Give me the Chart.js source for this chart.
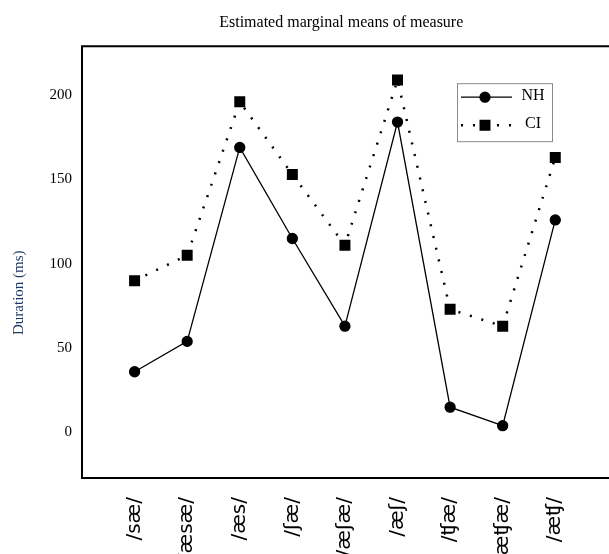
<!DOCTYPE html>
<html>
<head>
<meta charset="utf-8">
<script src="https://cdn.jsdelivr.net/npm/chart.js@4.4.1/dist/chart.umd.min.js"></script>
<style>
  html, body { margin: 0; padding: 0; background: #fff; overflow: hidden; }
  #wrap { width: 609px; height: 554px; }
</style>
</head>
<body>
<div id="wrap"><canvas id="chart"></canvas></div>
<script>
// values (ms)
const categories = ['/sæ/', '/æsæ/', '/æs/', '/ʃæ/', '/æʃæ/', '/æʃ/', '/ʧæ/', '/æʧæ/', '/æʧ/'];
const nhValues = [36, 54, 169, 115, 63, 184, 15, 4, 126];
const ciValues = [90, 105, 196, 153, 111, 209, 73, 63, 163];
const yTicks = [0, 50, 100, 150, 200];
const seriesNames = ['NH', 'CI'];
const chartTitle = 'Estimated marginal means of measure';
const yTitle = 'Duration (ms)';

const serif = 'Liberation Serif';
const ciDash = [2, 10];

// box round the plot, open on the right side
const framePlugin = {
    id: 'frame',
    afterDraw(chart) {
        const { ctx, chartArea: a, width } = chart;
        ctx.save();
        ctx.strokeStyle = '#000';
        ctx.lineWidth = 2;
        ctx.beginPath();
        ctx.moveTo(width, a.top);
        ctx.lineTo(a.left, a.top);
        ctx.lineTo(a.left, a.bottom);
        ctx.lineTo(width, a.bottom);
        ctx.stroke();
        ctx.restore();
    }
};

const yTitlePlugin = {
    id: 'yTitle',
    afterDraw(chart) {
        const { ctx, chartArea: a } = chart;
        ctx.save();
        ctx.translate(19, a.bottom - 143);
        ctx.rotate(-Math.PI / 2);
        ctx.fillStyle = '#1f3864';
        ctx.font = `15px "${serif}"`;
        ctx.textAlign = 'left';
        ctx.textBaseline = 'middle';
        ctx.fillText(yTitle, 0, 0);
        ctx.restore();
    }
};

// legend box inside the plot
const legendPlugin = {
    id: 'boxLegend',
    afterDraw(chart) {
        const { ctx, chartArea: a } = chart;
        const bx = a.left + 375, by = a.top + 37, bw = 95, bh = 58;
        ctx.save();
        ctx.fillStyle = '#fff';
        ctx.fillRect(bx, by, bw, bh);
        ctx.strokeStyle = '#8a8a8a';
        ctx.lineWidth = 1;
        ctx.strokeRect(bx + 0.5, by + 0.5, bw, bh);

        chart.data.datasets.forEach((ds, i) => {
            const ry = by + 14 + i * 28;
            ctx.strokeStyle = '#000';
            ctx.lineWidth = ds.borderWidth;
            ctx.setLineDash(ds.borderDash || []);
            ctx.beginPath();
            ctx.moveTo(bx + 4, ry);
            ctx.lineTo(bx + 55, ry);
            ctx.stroke();
            ctx.setLineDash([]);
            Chart.helpers.drawPoint(ctx, {
                pointStyle: ds.pointStyle,
                radius: ds.pointRadius,
                borderWidth: 1,
                rotation: 0
            }, bx + 28, ry);
            ctx.fillStyle = '#000';
            ctx.fill();
            ctx.font = `16px "${serif}"`;
            ctx.textAlign = 'center';
            ctx.textBaseline = 'middle';
            ctx.fillText(ds.label, bx + 76, ry - 1);
        });
        ctx.restore();
    }
};

new Chart(document.getElementById('chart'), {
    type: 'line',
    data: {
        datasets: [
            {
                label: seriesNames[0],
                data: nhValues.map((v, i) => ({ x: i, y: v })),
                borderColor: '#000',
                borderWidth: 1.3,
                pointStyle: 'circle',
                pointRadius: 5,
                pointBackgroundColor: '#000',
                pointBorderColor: '#000',
                tension: 0,
            },
            {
                label: seriesNames[1],
                data: ciValues.map((v, i) => ({ x: i, y: v })),
                borderColor: '#000',
                borderWidth: 2.5,
                borderDash: ciDash,
                pointStyle: 'rect',
                pointRadius: 6,
                pointBackgroundColor: '#000',
                pointBorderColor: '#000',
                tension: 0,
            },
        ]
    },
    options: {
        animation: false,
        responsive: true,
        maintainAspectRatio: false,
        layout: { padding: 0 },
        scales: {
            x: {
                type: 'linear',
                min: -1,
                max: 8.86,
                afterBuildTicks: s => { s.ticks = categories.map((_, i) => ({ value: i })); },
                afterFit: s => { s.height = 76; },
                grid: { display: false, drawTicks: false },
                border: { display: false },
                ticks: {
                    autoSkip: false,
                    minRotation: 90,
                    maxRotation: 90,
                    padding: 19,
                    color: '#000',
                    font: { family: 'DejaVu Sans', size: 20 },
                    callback: v => categories[v],
                },
            },
            y: {
                min: -27,
                max: 229,
                afterBuildTicks: s => { s.ticks = yTicks.map(v => ({ value: v })); },
                afterFit: s => { s.width = 82; },
                grid: { display: false, drawTicks: false },
                border: { display: false },
                ticks: {
                    padding: 10,
                    color: '#000',
                    font: { family: serif, size: 15 },
                },
            },
        },
        plugins: {
            legend: { display: false },
            tooltip: { enabled: false },
            title: {
                display: true,
                text: chartTitle,
                fullSize: false,
                color: '#000',
                font: { family: serif, size: 16, weight: 'normal' },
                padding: { top: 13, bottom: 14 },
            },
        },
    },
    plugins: [framePlugin, yTitlePlugin, legendPlugin],
});
</script>
</body>
</html>
